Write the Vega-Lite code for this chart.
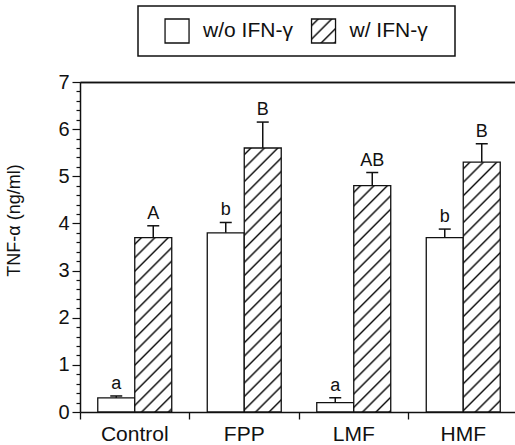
{
  "$schema": "https://vega.github.io/schema/vega-lite/v6.json",
  "autosize": {"type": "pad"},
  "padding": {"left": 5, "top": 5, "right": 0, "bottom": 0},
  "config": {"view": {"stroke": null}, "font": "Liberation Sans"},
  "spacing": 26,
  "bounds": "flush",
  "center": true,
  "vconcat": [
    {
      "width": 317,
      "height": 50,
      "view": {"stroke": "#111", "strokeWidth": 1.5},
      "data": {"values": [{"item": "w/o IFN-γ"}, {"item": "w/ IFN-γ"}]},
      "layer": [
        {
          "transform": [{"filter": "datum.item === 'w/o IFN-γ'"}],
          "mark": {"type": "square", "size": 576, "fill": "white", "stroke": "#111", "strokeWidth": 1.3, "opacity": 1},
          "encoding": {"x": {"field": "item", "type": "nominal", "sort": ["w/o IFN-γ", "w/ IFN-γ"], "scale": {"type": "point", "padding": 0.582, "align": 0.229, "domain": ["w/o IFN-γ", "w/ IFN-γ"]}, "axis": null}}
        },
        {
          "transform": [{"filter": "datum.item === 'w/ IFN-γ'"}],
          "mark": {"type": "square", "size": 576, "stroke": "#111", "strokeWidth": 1.3, "opacity": 1,
            "fill": {"gradient": "linear", "x1": 0, "y1": 0, "x2": 6.7175, "y2": 6.7175, "stops": [
              {"offset": 0, "color": "#fff"},
              {"offset": 0.0143, "color": "#fff"}, {"offset": 0.0208, "color": "#111"}, {"offset": 0.0273, "color": "#fff"},
              {"offset": 0.056, "color": "#fff"}, {"offset": 0.0625, "color": "#111"}, {"offset": 0.069, "color": "#fff"},
              {"offset": 0.0977, "color": "#fff"}, {"offset": 0.1042, "color": "#111"}, {"offset": 0.1107, "color": "#fff"},
              {"offset": 0.1393, "color": "#fff"}, {"offset": 0.1458, "color": "#111"}, {"offset": 0.1523, "color": "#fff"}
            ]}},
          "encoding": {"x": {"field": "item", "type": "nominal", "sort": ["w/o IFN-γ", "w/ IFN-γ"], "scale": {"type": "point", "padding": 0.582, "align": 0.229, "domain": ["w/o IFN-γ", "w/ IFN-γ"]}, "axis": null}}
        },
        {
          "mark": {"type": "text", "align": "left", "dx": 26, "fontSize": 21, "baseline": "middle", "color": "#111"},
          "encoding": {
            "x": {"field": "item", "type": "nominal", "sort": ["w/o IFN-γ", "w/ IFN-γ"], "scale": {"type": "point", "padding": 0.582, "align": 0.229, "domain": ["w/o IFN-γ", "w/ IFN-γ"]}, "axis": null},
            "text": {"field": "item"}
          }
        }
      ]
    },
    {
      "width": 433,
      "height": 330,
      "view": {"stroke": null},
      "resolve": {"axis": {"y": "independent", "x": "independent"}},
      "data": {"values": [
        {"group": "Control", "cond": "w/o", "value": 0.3, "err": 0.34, "letter": "a"},
        {"group": "Control", "cond": "w/", "value": 3.7, "err": 3.95, "letter": "A"},
        {"group": "FPP", "cond": "w/o", "value": 3.8, "err": 4.02, "letter": "b"},
        {"group": "FPP", "cond": "w/", "value": 5.6, "err": 6.15, "letter": "B"},
        {"group": "LMF", "cond": "w/o", "value": 0.2, "err": 0.3, "letter": "a"},
        {"group": "LMF", "cond": "w/", "value": 4.8, "err": 5.08, "letter": "AB"},
        {"group": "HMF", "cond": "w/o", "value": 3.7, "err": 3.88, "letter": "b"},
        {"group": "HMF", "cond": "w/", "value": 5.3, "err": 5.69, "letter": "B"}
      ]},
      "layer": [
        {
          "transform": [{"filter": "datum.cond === 'w/o'"}],
          "mark": {"type": "bar", "fill": "white", "stroke": "#111", "strokeWidth": 1.3},
          "encoding": {
            "x": {"field": "group", "type": "nominal", "sort": ["Control", "FPP", "LMF", "HMF"], "title": null,
              "scale": {"range": [0, 438], "paddingInner": 0, "paddingOuter": 0},
              "axis": {"orient": "bottom", "domain": true, "domainColor": "#111", "domainWidth": 1.5, "bandPosition": 0, "tickSize": 7, "tickColor": "#111", "tickWidth": 1.3, "labelFontSize": 21, "labelPadding": 4, "labelAngle": 0, "labelColor": "#111"}},
            "xOffset": {"field": "cond", "type": "nominal", "sort": ["w/o", "w/"], "scale": {"domain": ["w/o", "w/"], "paddingInner": 0, "paddingOuter": 0.48}},
            "y": {"field": "value", "type": "quantitative", "title": "TNF-α (ng/ml)",
              "scale": {"domain": [0, 7], "nice": false},
              "axis": {
                "orient": "left",
                "values": [0, 1, 2, 3, 4, 5, 6, 7],
                "tickSize": 8,
                "labelOverlap": false,
                "labelFontSize": 20, "labelPadding": 3, "labelColor": "#111",
                "domainColor": "#111", "domainWidth": 1.5, "tickColor": "#111", "tickWidth": 1.2,
                "grid": true, "gridColor": "#111", "gridWidth": 1.5,
                "gridOpacity": {"condition": {"test": "datum.value === 7", "value": 1}, "value": 0},
                "titleFontSize": 18, "titleFontWeight": "normal", "titleColor": "#111", "titleX": -57, "titleY": 138
              }}
          }
        },
        {
          "transform": [{"filter": "datum.group === 'Control' && datum.cond === 'w/'"}],
          "mark": {"type": "bar", "stroke": "#111", "strokeWidth": 1.3,
            "fill": {"gradient": "linear", "x1": 0, "y1": 0, "x2": 0.3752, "y2": 1.7689, "stops": [
              {"offset": 0, "color": "#fff"},
              {"offset": 0.0143, "color": "#fff"}, {"offset": 0.0208, "color": "#111"}, {"offset": 0.0273, "color": "#fff"},
              {"offset": 0.056, "color": "#fff"}, {"offset": 0.0625, "color": "#111"}, {"offset": 0.069, "color": "#fff"},
              {"offset": 0.0977, "color": "#fff"}, {"offset": 0.1042, "color": "#111"}, {"offset": 0.1107, "color": "#fff"},
              {"offset": 0.1393, "color": "#fff"}, {"offset": 0.1458, "color": "#111"}, {"offset": 0.1523, "color": "#fff"},
              {"offset": 0.181, "color": "#fff"}, {"offset": 0.1875, "color": "#111"}, {"offset": 0.194, "color": "#fff"},
              {"offset": 0.2227, "color": "#fff"}, {"offset": 0.2292, "color": "#111"}, {"offset": 0.2357, "color": "#fff"},
              {"offset": 0.2643, "color": "#fff"}, {"offset": 0.2708, "color": "#111"}, {"offset": 0.2773, "color": "#fff"},
              {"offset": 0.306, "color": "#fff"}, {"offset": 0.3125, "color": "#111"}, {"offset": 0.319, "color": "#fff"},
              {"offset": 0.3477, "color": "#fff"}, {"offset": 0.3542, "color": "#111"}, {"offset": 0.3607, "color": "#fff"},
              {"offset": 0.3893, "color": "#fff"}, {"offset": 0.3958, "color": "#111"}, {"offset": 0.4023, "color": "#fff"},
              {"offset": 0.431, "color": "#fff"}, {"offset": 0.4375, "color": "#111"}, {"offset": 0.444, "color": "#fff"},
              {"offset": 0.4727, "color": "#fff"}, {"offset": 0.4792, "color": "#111"}, {"offset": 0.4857, "color": "#fff"},
              {"offset": 0.5143, "color": "#fff"}, {"offset": 0.5208, "color": "#111"}, {"offset": 0.5273, "color": "#fff"},
              {"offset": 0.556, "color": "#fff"}, {"offset": 0.5625, "color": "#111"}, {"offset": 0.569, "color": "#fff"},
              {"offset": 0.5977, "color": "#fff"}, {"offset": 0.6042, "color": "#111"}, {"offset": 0.6107, "color": "#fff"},
              {"offset": 0.6393, "color": "#fff"}, {"offset": 0.6458, "color": "#111"}, {"offset": 0.6523, "color": "#fff"}
            ]}},
          "encoding": {
            "x": {"field": "group", "type": "nominal", "sort": ["Control", "FPP", "LMF", "HMF"], "axis": null},
            "xOffset": {"field": "cond", "type": "nominal", "sort": ["w/o", "w/"]},
            "y": {"field": "value", "type": "quantitative", "axis": null}
          }
        },
        {
          "transform": [{"filter": "datum.group === 'FPP' && datum.cond === 'w/'"}],
          "mark": {"type": "bar", "stroke": "#111", "strokeWidth": 1.3,
            "fill": {"gradient": "linear", "x1": 0, "y1": 0, "x2": 0.1679, "y2": 1.1978, "stops": [
              {"offset": 0, "color": "#fff"},
              {"offset": 0.0143, "color": "#fff"}, {"offset": 0.0208, "color": "#111"}, {"offset": 0.0273, "color": "#fff"},
              {"offset": 0.056, "color": "#fff"}, {"offset": 0.0625, "color": "#111"}, {"offset": 0.069, "color": "#fff"},
              {"offset": 0.0977, "color": "#fff"}, {"offset": 0.1042, "color": "#111"}, {"offset": 0.1107, "color": "#fff"},
              {"offset": 0.1393, "color": "#fff"}, {"offset": 0.1458, "color": "#111"}, {"offset": 0.1523, "color": "#fff"},
              {"offset": 0.181, "color": "#fff"}, {"offset": 0.1875, "color": "#111"}, {"offset": 0.194, "color": "#fff"},
              {"offset": 0.2227, "color": "#fff"}, {"offset": 0.2292, "color": "#111"}, {"offset": 0.2357, "color": "#fff"},
              {"offset": 0.2643, "color": "#fff"}, {"offset": 0.2708, "color": "#111"}, {"offset": 0.2773, "color": "#fff"},
              {"offset": 0.306, "color": "#fff"}, {"offset": 0.3125, "color": "#111"}, {"offset": 0.319, "color": "#fff"},
              {"offset": 0.3477, "color": "#fff"}, {"offset": 0.3542, "color": "#111"}, {"offset": 0.3607, "color": "#fff"},
              {"offset": 0.3893, "color": "#fff"}, {"offset": 0.3958, "color": "#111"}, {"offset": 0.4023, "color": "#fff"},
              {"offset": 0.431, "color": "#fff"}, {"offset": 0.4375, "color": "#111"}, {"offset": 0.444, "color": "#fff"},
              {"offset": 0.4727, "color": "#fff"}, {"offset": 0.4792, "color": "#111"}, {"offset": 0.4857, "color": "#fff"},
              {"offset": 0.5143, "color": "#fff"}, {"offset": 0.5208, "color": "#111"}, {"offset": 0.5273, "color": "#fff"},
              {"offset": 0.556, "color": "#fff"}, {"offset": 0.5625, "color": "#111"}, {"offset": 0.569, "color": "#fff"},
              {"offset": 0.5977, "color": "#fff"}, {"offset": 0.6042, "color": "#111"}, {"offset": 0.6107, "color": "#fff"},
              {"offset": 0.6393, "color": "#fff"}, {"offset": 0.6458, "color": "#111"}, {"offset": 0.6523, "color": "#fff"},
              {"offset": 0.681, "color": "#fff"}, {"offset": 0.6875, "color": "#111"}, {"offset": 0.694, "color": "#fff"},
              {"offset": 0.7227, "color": "#fff"}, {"offset": 0.7292, "color": "#111"}, {"offset": 0.7357, "color": "#fff"},
              {"offset": 0.7643, "color": "#fff"}, {"offset": 0.7708, "color": "#111"}, {"offset": 0.7773, "color": "#fff"},
              {"offset": 0.806, "color": "#fff"}, {"offset": 0.8125, "color": "#111"}, {"offset": 0.819, "color": "#fff"},
              {"offset": 0.8477, "color": "#fff"}, {"offset": 0.8542, "color": "#111"}, {"offset": 0.8607, "color": "#fff"},
              {"offset": 0.8893, "color": "#fff"}, {"offset": 0.8958, "color": "#111"}, {"offset": 0.9023, "color": "#fff"},
              {"offset": 0.931, "color": "#fff"}, {"offset": 0.9375, "color": "#111"}, {"offset": 0.944, "color": "#fff"}
            ]}},
          "encoding": {
            "x": {"field": "group", "type": "nominal", "sort": ["Control", "FPP", "LMF", "HMF"], "axis": null},
            "xOffset": {"field": "cond", "type": "nominal", "sort": ["w/o", "w/"]},
            "y": {"field": "value", "type": "quantitative", "axis": null}
          }
        },
        {
          "transform": [{"filter": "datum.group === 'LMF' && datum.cond === 'w/'"}],
          "mark": {"type": "bar", "stroke": "#111", "strokeWidth": 1.3,
            "fill": {"gradient": "linear", "x1": 0, "y1": 0, "x2": 0.2269, "y2": 1.3878, "stops": [
              {"offset": 0, "color": "#fff"},
              {"offset": 0.0143, "color": "#fff"}, {"offset": 0.0208, "color": "#111"}, {"offset": 0.0273, "color": "#fff"},
              {"offset": 0.056, "color": "#fff"}, {"offset": 0.0625, "color": "#111"}, {"offset": 0.069, "color": "#fff"},
              {"offset": 0.0977, "color": "#fff"}, {"offset": 0.1042, "color": "#111"}, {"offset": 0.1107, "color": "#fff"},
              {"offset": 0.1393, "color": "#fff"}, {"offset": 0.1458, "color": "#111"}, {"offset": 0.1523, "color": "#fff"},
              {"offset": 0.181, "color": "#fff"}, {"offset": 0.1875, "color": "#111"}, {"offset": 0.194, "color": "#fff"},
              {"offset": 0.2227, "color": "#fff"}, {"offset": 0.2292, "color": "#111"}, {"offset": 0.2357, "color": "#fff"},
              {"offset": 0.2643, "color": "#fff"}, {"offset": 0.2708, "color": "#111"}, {"offset": 0.2773, "color": "#fff"},
              {"offset": 0.306, "color": "#fff"}, {"offset": 0.3125, "color": "#111"}, {"offset": 0.319, "color": "#fff"},
              {"offset": 0.3477, "color": "#fff"}, {"offset": 0.3542, "color": "#111"}, {"offset": 0.3607, "color": "#fff"},
              {"offset": 0.3893, "color": "#fff"}, {"offset": 0.3958, "color": "#111"}, {"offset": 0.4023, "color": "#fff"},
              {"offset": 0.431, "color": "#fff"}, {"offset": 0.4375, "color": "#111"}, {"offset": 0.444, "color": "#fff"},
              {"offset": 0.4727, "color": "#fff"}, {"offset": 0.4792, "color": "#111"}, {"offset": 0.4857, "color": "#fff"},
              {"offset": 0.5143, "color": "#fff"}, {"offset": 0.5208, "color": "#111"}, {"offset": 0.5273, "color": "#fff"},
              {"offset": 0.556, "color": "#fff"}, {"offset": 0.5625, "color": "#111"}, {"offset": 0.569, "color": "#fff"},
              {"offset": 0.5977, "color": "#fff"}, {"offset": 0.6042, "color": "#111"}, {"offset": 0.6107, "color": "#fff"},
              {"offset": 0.6393, "color": "#fff"}, {"offset": 0.6458, "color": "#111"}, {"offset": 0.6523, "color": "#fff"},
              {"offset": 0.681, "color": "#fff"}, {"offset": 0.6875, "color": "#111"}, {"offset": 0.694, "color": "#fff"},
              {"offset": 0.7227, "color": "#fff"}, {"offset": 0.7292, "color": "#111"}, {"offset": 0.7357, "color": "#fff"},
              {"offset": 0.7643, "color": "#fff"}, {"offset": 0.7708, "color": "#111"}, {"offset": 0.7773, "color": "#fff"},
              {"offset": 0.806, "color": "#fff"}, {"offset": 0.8125, "color": "#111"}, {"offset": 0.819, "color": "#fff"}
            ]}},
          "encoding": {
            "x": {"field": "group", "type": "nominal", "sort": ["Control", "FPP", "LMF", "HMF"], "axis": null},
            "xOffset": {"field": "cond", "type": "nominal", "sort": ["w/o", "w/"]},
            "y": {"field": "value", "type": "quantitative", "axis": null}
          }
        },
        {
          "transform": [{"filter": "datum.group === 'HMF' && datum.cond === 'w/'"}],
          "mark": {"type": "bar", "stroke": "#111", "strokeWidth": 1.3,
            "fill": {"gradient": "linear", "x1": 0, "y1": 0, "x2": 0.187, "y2": 1.2628, "stops": [
              {"offset": 0, "color": "#fff"},
              {"offset": 0.0143, "color": "#fff"}, {"offset": 0.0208, "color": "#111"}, {"offset": 0.0273, "color": "#fff"},
              {"offset": 0.056, "color": "#fff"}, {"offset": 0.0625, "color": "#111"}, {"offset": 0.069, "color": "#fff"},
              {"offset": 0.0977, "color": "#fff"}, {"offset": 0.1042, "color": "#111"}, {"offset": 0.1107, "color": "#fff"},
              {"offset": 0.1393, "color": "#fff"}, {"offset": 0.1458, "color": "#111"}, {"offset": 0.1523, "color": "#fff"},
              {"offset": 0.181, "color": "#fff"}, {"offset": 0.1875, "color": "#111"}, {"offset": 0.194, "color": "#fff"},
              {"offset": 0.2227, "color": "#fff"}, {"offset": 0.2292, "color": "#111"}, {"offset": 0.2357, "color": "#fff"},
              {"offset": 0.2643, "color": "#fff"}, {"offset": 0.2708, "color": "#111"}, {"offset": 0.2773, "color": "#fff"},
              {"offset": 0.306, "color": "#fff"}, {"offset": 0.3125, "color": "#111"}, {"offset": 0.319, "color": "#fff"},
              {"offset": 0.3477, "color": "#fff"}, {"offset": 0.3542, "color": "#111"}, {"offset": 0.3607, "color": "#fff"},
              {"offset": 0.3893, "color": "#fff"}, {"offset": 0.3958, "color": "#111"}, {"offset": 0.4023, "color": "#fff"},
              {"offset": 0.431, "color": "#fff"}, {"offset": 0.4375, "color": "#111"}, {"offset": 0.444, "color": "#fff"},
              {"offset": 0.4727, "color": "#fff"}, {"offset": 0.4792, "color": "#111"}, {"offset": 0.4857, "color": "#fff"},
              {"offset": 0.5143, "color": "#fff"}, {"offset": 0.5208, "color": "#111"}, {"offset": 0.5273, "color": "#fff"},
              {"offset": 0.556, "color": "#fff"}, {"offset": 0.5625, "color": "#111"}, {"offset": 0.569, "color": "#fff"},
              {"offset": 0.5977, "color": "#fff"}, {"offset": 0.6042, "color": "#111"}, {"offset": 0.6107, "color": "#fff"},
              {"offset": 0.6393, "color": "#fff"}, {"offset": 0.6458, "color": "#111"}, {"offset": 0.6523, "color": "#fff"},
              {"offset": 0.681, "color": "#fff"}, {"offset": 0.6875, "color": "#111"}, {"offset": 0.694, "color": "#fff"},
              {"offset": 0.7227, "color": "#fff"}, {"offset": 0.7292, "color": "#111"}, {"offset": 0.7357, "color": "#fff"},
              {"offset": 0.7643, "color": "#fff"}, {"offset": 0.7708, "color": "#111"}, {"offset": 0.7773, "color": "#fff"},
              {"offset": 0.806, "color": "#fff"}, {"offset": 0.8125, "color": "#111"}, {"offset": 0.819, "color": "#fff"},
              {"offset": 0.8477, "color": "#fff"}, {"offset": 0.8542, "color": "#111"}, {"offset": 0.8607, "color": "#fff"},
              {"offset": 0.8893, "color": "#fff"}, {"offset": 0.8958, "color": "#111"}, {"offset": 0.9023, "color": "#fff"}
            ]}},
          "encoding": {
            "x": {"field": "group", "type": "nominal", "sort": ["Control", "FPP", "LMF", "HMF"], "axis": null},
            "xOffset": {"field": "cond", "type": "nominal", "sort": ["w/o", "w/"]},
            "y": {"field": "value", "type": "quantitative", "axis": null}
          }
        },
        {
          "mark": {"type": "rule", "color": "#111", "strokeWidth": 1.5},
          "encoding": {
            "x": {"field": "group", "type": "nominal", "sort": ["Control", "FPP", "LMF", "HMF"],
              "axis": {"orient": "top", "domain": true, "domainColor": "#111", "domainWidth": 1.5, "ticks": false, "labels": false, "title": null}},
            "xOffset": {"field": "cond", "type": "nominal", "sort": ["w/o", "w/"]},
            "y": {"field": "value", "type": "quantitative", "axis": null},
            "y2": {"field": "err"}
          }
        },
        {
          "mark": {"type": "tick", "orient": "horizontal", "size": 12, "thickness": 1.5, "color": "#111", "opacity": 1},
          "encoding": {
            "x": {"field": "group", "type": "nominal", "sort": ["Control", "FPP", "LMF", "HMF"], "axis": null},
            "xOffset": {"field": "cond", "type": "nominal", "sort": ["w/o", "w/"]},
            "y": {"field": "err", "type": "quantitative",
              "axis": {"orient": "left", "title": null, "labels": false, "domain": false, "grid": false, "tickSize": 4, "tickColor": "#111", "tickWidth": 1.2,
                "values": [0.2,0.4,0.6,0.8,1.2,1.4,1.6,1.8,2.2,2.4,2.6,2.8,3.2,3.4,3.6,3.8,4.2,4.4,4.6,4.8,5.2,5.4,5.6,5.8,6.2,6.4,6.6,6.8]}}
          }
        },
        {
          "mark": {"type": "text", "dy": -7, "baseline": "alphabetic", "fontSize": 18, "color": "#111"},
          "encoding": {
            "x": {"field": "group", "type": "nominal", "sort": ["Control", "FPP", "LMF", "HMF"], "axis": null},
            "xOffset": {"field": "cond", "type": "nominal", "sort": ["w/o", "w/"]},
            "y": {"field": "err", "type": "quantitative", "axis": null},
            "text": {"field": "letter"}
          }
        }
      ]
    }
  ]
}
